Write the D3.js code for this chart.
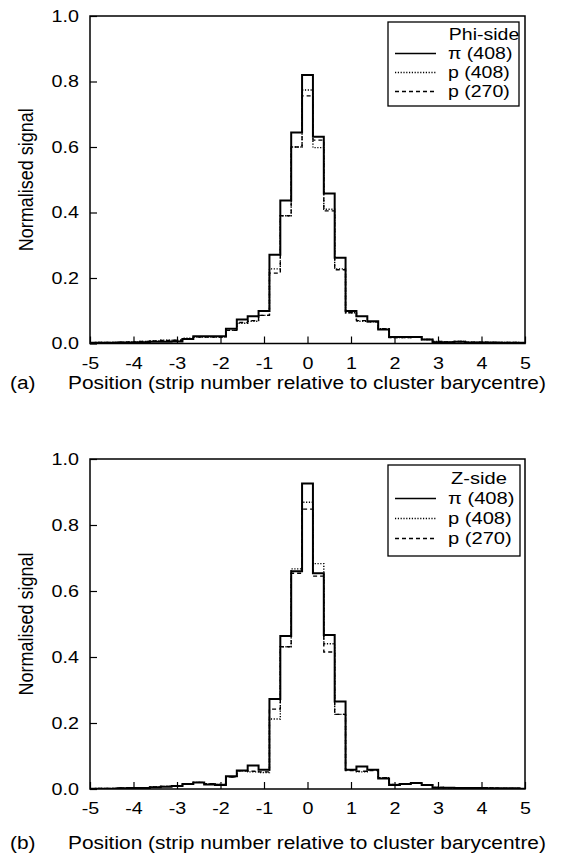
<!DOCTYPE html>
<html><head><meta charset="utf-8">
<script src="https://cdn.jsdelivr.net/npm/d3@7"></script>
<style>
body{margin:0;background:#fff;}
svg text{font-family:"Liberation Sans",Arial,sans-serif;fill:#000;}
</style></head>
<body><svg id="c" width="563" height="862"></svg>
<script>
// bin centres (strip position), bin width 0.25
const positions = [-5,-4.75,-4.5,-4.25,-4,-3.75,-3.5,-3.25,-3,-2.75,-2.5,-2.25,-2,-1.75,-1.5,-1.25,-1,-0.75,-0.5,-0.25,0,0.25,0.5,0.75,1,1.25,1.5,1.75,2,2.25,2.5,2.75,3,3.25,3.5,3.75,4,4.25,4.5,4.75,5];
const binWidth = 0.25;

// (a) Phi-side
const phiPi408 = [0.002,0.002,0.002,0.003,0.003,0.004,0.005,0.005,0.006,0.014,0.022,0.022,0.022,0.045,0.073,0.083,0.099,0.271,0.437,0.644,0.820,0.631,0.458,0.262,0.099,0.083,0.068,0.043,0.020,0.020,0.020,0.012,0.004,0.004,0.005,0.003,0.003,0.003,0.002,0.002,0.002];
const phiP408  = [0.002,0.003,0.003,0.004,0.005,0.006,0.008,0.010,0.010,0.016,0.020,0.020,0.020,0.040,0.062,0.068,0.086,0.228,0.390,0.600,0.774,0.598,0.410,0.228,0.094,0.068,0.066,0.045,0.018,0.018,0.020,0.012,0.006,0.005,0.006,0.004,0.004,0.003,0.003,0.003,0.002];
const phiP270  = [0.002,0.003,0.003,0.004,0.005,0.006,0.008,0.009,0.010,0.015,0.020,0.020,0.020,0.040,0.064,0.070,0.086,0.215,0.390,0.600,0.756,0.621,0.405,0.225,0.094,0.070,0.066,0.045,0.018,0.018,0.020,0.012,0.006,0.005,0.006,0.004,0.004,0.003,0.003,0.003,0.002];

// (b) Z-side
const zPi408 = [0.001,0.001,0.001,0.002,0.003,0.003,0.005,0.007,0.009,0.015,0.020,0.014,0.012,0.039,0.056,0.071,0.058,0.273,0.464,0.660,0.926,0.654,0.467,0.265,0.058,0.068,0.058,0.032,0.012,0.015,0.018,0.012,0.004,0.004,0.003,0.003,0.003,0.002,0.002,0.002,0.001];
const zP408  = [0.001,0.002,0.002,0.003,0.004,0.004,0.006,0.008,0.010,0.016,0.020,0.016,0.014,0.036,0.055,0.052,0.050,0.212,0.431,0.667,0.869,0.683,0.440,0.226,0.058,0.052,0.058,0.034,0.014,0.015,0.018,0.012,0.005,0.004,0.004,0.003,0.003,0.003,0.002,0.002,0.001];
const zP270  = [0.001,0.002,0.002,0.003,0.004,0.004,0.006,0.008,0.010,0.016,0.020,0.016,0.014,0.036,0.055,0.054,0.052,0.242,0.431,0.654,0.848,0.645,0.415,0.226,0.056,0.054,0.056,0.034,0.014,0.015,0.018,0.012,0.005,0.004,0.004,0.003,0.003,0.003,0.002,0.002,0.001];

const xTicks = [-5,-4,-3,-2,-1,0,1,2,3,4,5];
const yTicks = [0,0.2,0.4,0.6,0.8,1.0];
const seriesNames = ["\u03c0 (408)","p (408)","p (270)"];
const xTitle = "Position (strip number relative to cluster barycentre)";
const yTitle = "Normalised signal";

const styles = [
  {w:2, dash:null},
  {w:1.4, dash:"1.2,1.6"},
  {w:1.4, dash:"4,3"}
];
const SX = 1.16; // horizontal stretch of the lettering

const svg = d3.select("#c");

function label(g, x, y, txt, size, anchor, sx){
  return g.append("text").attr("transform",`translate(${x},${y}) scale(${sx||SX},1)`)
    .attr("font-size",size).attr("text-anchor",anchor||"start").text(txt);
}

function panel(cfg){
  const x = d3.scaleLinear().domain([-5,5]).range([90,525]);
  const y = d3.scaleLinear().domain([0,1]).range([cfg.y0,cfg.y1]);
  const g = svg.append("g");
  const cid = "clip"+cfg.id;
  svg.append("clipPath").attr("id",cid).append("rect")
    .attr("x",x(-5)).attr("y",y(1)).attr("width",x(5)-x(-5)).attr("height",y(0)-y(1));

  const line = d3.line().x(d=>x(d[0])).y(d=>y(d[1])).curve(d3.curveStepAfter);
  [2,1,0].forEach(i=>{
    const vals = cfg.series[i];
    const pts = positions.map((p,k)=>[p-binWidth/2, vals[k]]);
    pts.push([positions[positions.length-1]+binWidth/2, vals[vals.length-1]]);
    g.append("path").attr("d",line(pts)).attr("fill","none").attr("stroke","#000")
      .attr("stroke-width",styles[i].w).attr("stroke-dasharray",styles[i].dash)
      .attr("clip-path","url(#"+cid+")");
  });

  g.append("rect").attr("x",x(-5)).attr("y",y(1)).attr("width",x(5)-x(-5)).attr("height",y(0)-y(1))
    .attr("fill","none").attr("stroke","#000").attr("stroke-width",1.5);

  const ya = d3.axisLeft(y).tickValues(yTicks).tickFormat(d=>d.toFixed(1)).tickSizeInner(-7).tickSizeOuter(0).tickPadding(9.5);
  const yg = g.append("g").attr("transform",`translate(${x(-5)},0)`).call(ya);
  yg.select(".domain").remove();
  yg.selectAll("text").attr("font-size",17).attr("font-family",null).attr("transform",`scale(${SX},1)`);
  yg.selectAll("line").attr("stroke-width",1.2);

  const xa = d3.axisBottom(x).tickValues(xTicks).tickFormat(d=>String(d)).tickSizeInner(-7).tickSizeOuter(0).tickPadding(13);
  const xg = g.append("g").attr("transform",`translate(0,${y(0)})`).call(xa);
  xg.select(".domain").remove();
  xg.selectAll("text").attr("font-size",17).attr("font-family",null).attr("transform",`scale(${SX},1)`);
  xg.selectAll("line").attr("stroke-width",1.2);

  g.append("text").attr("transform",`translate(33,${(y(0)+y(1))/2}) rotate(-90) scale(1,${SX})`)
    .attr("text-anchor","middle").attr("font-size",18).text(yTitle);
  label(g, 68, cfg.titleY, xTitle, 18);
  label(g, 10, cfg.titleY, cfg.tag, 18);

  const L = cfg.legend;
  g.append("rect").attr("x",L.x0).attr("y",L.top).attr("width",L.x1-L.x0).attr("height",L.bottom-L.top)
    .attr("fill","#fff").attr("stroke","#000").attr("stroke-width",1.3);
  label(g, L.headX, L.headY, cfg.head, L.fs, "middle", 1.22);
  seriesNames.forEach((n,i)=>{
    const yy = L.rows[i];
    g.append("line").attr("x1",L.lx0).attr("x2",L.lx1).attr("y1",yy-5.5).attr("y2",yy-5.5)
      .attr("stroke","#000").attr("stroke-width",i===0?1.5:1.3).attr("stroke-dasharray",styles[i].dash);
    label(g, L.tx, yy, n, L.fs, "start", 1.22);
  });
}

panel({id:"a", y0:343.5, y1:16, titleY:389, tag:"(a)", head:"Phi-side",
  series:[phiPi408,phiP408,phiP270],
  legend:{fs:16,x0:388,x1:519,top:22,bottom:106,headX:484,headY:40,rows:[59,78,97],lx0:395,lx1:436,tx:448}});
panel({id:"b", y0:789, y1:459, titleY:849, tag:"(b)", head:"Z-side",
  series:[zPi408,zP408,zP270],
  legend:{fs:16.5,x0:388,x1:520,top:465,bottom:556,headX:479,headY:484,rows:[504,524,544],lx0:395,lx1:436,tx:448}});
</script></body></html>
